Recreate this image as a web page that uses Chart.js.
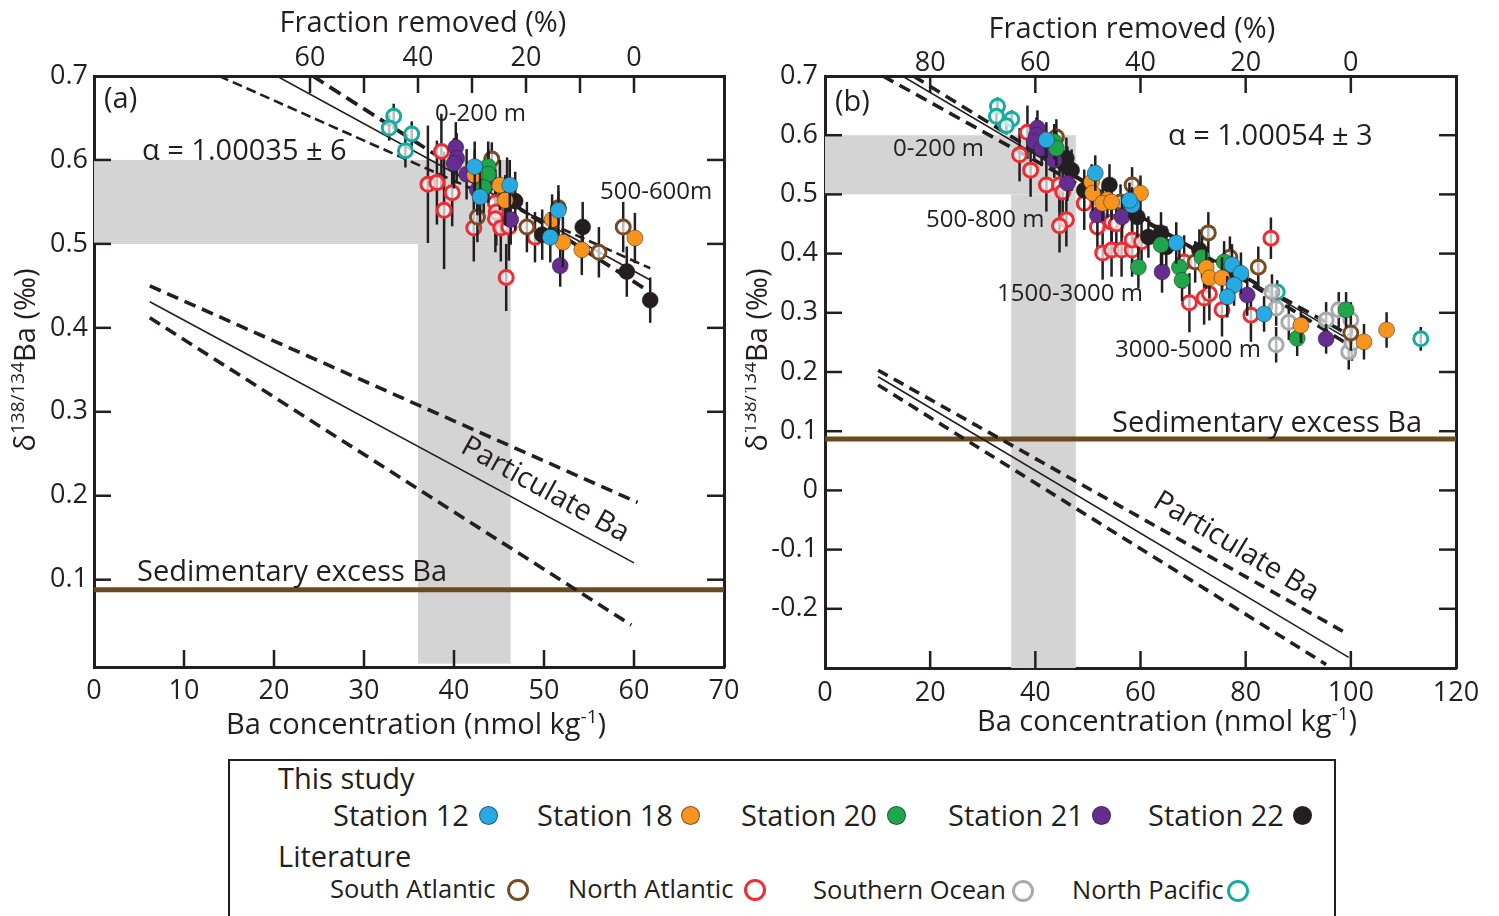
<!DOCTYPE html>
<html>
<head>
<meta charset="utf-8">
<script src="https://cdn.jsdelivr.net/npm/chart.js@4.4.1/dist/chart.umd.min.js"></script>
<style>
  body { margin: 0; background: #fff; width: 1499px; height: 916px; overflow: hidden; position: relative;
         font-family: 'Open Sans', sans-serif; color: #231f20; }
  #cA { position: absolute; left: 0; top: 0; }
  #cB { position: absolute; left: 745px; top: 0; }
  #legendBox { position: absolute; left: 228px; top: 759px; width: 1104px; height: 180px; border: 2px solid #231f20; }
  .lt { position: absolute; white-space: nowrap; line-height: 1; }
  .dot { position: absolute; border-radius: 50%; box-sizing: border-box; }
</style>
</head>
<body>
<canvas id="cA" width="745" height="750"></canvas>
<canvas id="cB" width="754" height="750"></canvas>
<div id="legendBox"></div>
<div id="legend"></div>

<script>
const INK = '#231f20';
const FONT = "'Open Sans', sans-serif";

// ---- axis ticks ----
const xTicksA = [0, 10, 20, 30, 40, 50, 60, 70];
const yTicksA = [0.1, 0.2, 0.3, 0.4, 0.5, 0.6, 0.7];
const fracTicksA = [60, 50, 40, 30, 20, 10, 0];
const fracLabelsA = [60, 40, 20, 0];
const ba0A = 60;

const xTicksB = [0, 20, 40, 60, 80, 100, 120];
const yTicksB = [-0.2, -0.1, 0, 0.1, 0.2, 0.3, 0.4, 0.5, 0.6, 0.7];
const fracTicksB = [80, 60, 40, 20, 0];
const fracLabelsB = [80, 60, 40, 20, 0];
const ba0B = 100;

// ---- series: [Ba nmol/kg, d138/134Ba, error] ----
const seriesNames = ['Station 12', 'Station 18', 'Station 20', 'Station 21', 'Station 22',
                     'South Atlantic', 'North Atlantic', 'Southern Ocean', 'North Pacific'];

// panel (a)
const aSt12 = [[42.3,0.592,0.03],[42.9,0.556,0.03],[46.2,0.570,0.03],[51.6,0.540,0.03],[50.7,0.508,0.03]];
const aSt18 = [[42.3,0.582,0.03],[45.1,0.570,0.03],[45.7,0.552,0.03],[50.9,0.529,0.03],[52.1,0.502,0.03],
               [54.2,0.493,0.03],[60.1,0.507,0.03]];
const aSt20 = [[43.8,0.592,0.03],[43.8,0.583,0.03],[43.3,0.567,0.03]];
const aSt21 = [[40.2,0.615,0.03],[40.3,0.602,0.03],[40.0,0.596,0.03],[41.4,0.583,0.03],[43.8,0.579,0.03],
               [42.6,0.564,0.03],[46.3,0.529,0.03],[51.8,0.474,0.025]];
const aSt22 = [[45.9,0.568,0.035],[46.8,0.551,0.035],[49.8,0.511,0.03],[54.3,0.520,0.03],[59.2,0.467,0.03],
               [61.8,0.433,0.027]];
const aSAtl = [[44.2,0.601,0.02],[42.6,0.532,0.03],[48.1,0.520,0.03],[51.6,0.543,0.02],[58.8,0.520,0.03],
               [56.1,0.490,0.03]];
const aNAtl = [[38.6,0.610,0.045],[37.1,0.571,0.07],[38.1,0.573,0.05],[39.8,0.561,0.04],[38.9,0.540,0.07],
               [42.2,0.519,0.04],[44.6,0.549,0.04],[44.7,0.538,0.04],[44.6,0.530,0.04],[45.2,0.519,0.04],
               [46.1,0.520,0.04],[45.8,0.460,0.04],[49.0,0.508,0.03]];
const aSOcn = [];
const aNPac = [[33.3,0.652,0.015],[32.8,0.638,0.015],[35.3,0.631,0.015],[34.6,0.611,0.02]];

// panel (b)
const bSt12 = [[42.1,0.592,0.03],[51.4,0.536,0.03],[58.4,0.482,0.03],[57.9,0.490,0.03],[66.8,0.418,0.035],
               [77.4,0.381,0.035],[79.1,0.367,0.035],[77.8,0.347,0.035],[76.5,0.327,0.035],[83.5,0.298,0.03]];
const bSt18 = [[50.7,0.521,0.03],[50.9,0.502,0.03],[53.7,0.491,0.03],[52.8,0.485,0.03],[54.5,0.487,0.03],
               [60.0,0.502,0.03],[72.5,0.376,0.035],[73.1,0.359,0.035],[75.5,0.359,0.035],[90.5,0.279,0.03],
               [102.5,0.251,0.03],[106.8,0.271,0.03]];
const bSt20 = [[43.6,0.589,0.03],[44.0,0.578,0.03],[63.9,0.415,0.035],[59.6,0.377,0.035],[67.4,0.377,0.035],
               [67.9,0.355,0.035],[75.9,0.386,0.035],[71.7,0.394,0.035],[89.8,0.257,0.03],[99.1,0.305,0.03]];
const bSt21 = [[40.4,0.612,0.03],[40.2,0.600,0.03],[39.8,0.589,0.03],[41.2,0.578,0.03],[43.1,0.572,0.03],
               [43.6,0.558,0.03],[46.1,0.519,0.03],[51.8,0.465,0.035],[56.5,0.462,0.035],[64.1,0.369,0.035],
               [80.3,0.330,0.035],[95.3,0.256,0.025]];
const bSt22 = [[45.9,0.561,0.035],[46.1,0.546,0.035],[46.9,0.541,0.035],[49.3,0.507,0.035],[54.1,0.516,0.035],
               [59.4,0.462,0.035],[61.5,0.428,0.035],[63.9,0.435,0.035],[64.9,0.411,0.035],[71.2,0.406,0.035]];
const bSAtl = [[44.0,0.597,0.03],[58.4,0.516,0.03],[56.2,0.487,0.03],[72.9,0.435,0.035],[70.4,0.386,0.035],
               [77.0,0.394,0.035],[82.4,0.377,0.035],[100.0,0.266,0.03]];
const bNAtl = [[38.5,0.605,0.045],[37.0,0.567,0.045],[39.1,0.541,0.045],[42.1,0.516,0.045],[44.6,0.516,0.045],
               [45.2,0.504,0.045],[45.9,0.457,0.045],[44.6,0.447,0.045],[49.3,0.485,0.045],[51.8,0.445,0.045],
               [54.5,0.453,0.045],[55.4,0.450,0.045],[52.8,0.401,0.045],[54.5,0.406,0.045],[56.4,0.406,0.045],
               [58.4,0.406,0.045],[58.4,0.423,0.045],[60.2,0.420,0.045],[68.3,0.386,0.045],[69.3,0.317,0.05],
               [72.1,0.325,0.045],[73.1,0.332,0.045],[75.5,0.305,0.045],[81.0,0.296,0.045],[84.8,0.426,0.035]];
const bSOcn = [[85.0,0.335,0.03],[85.8,0.308,0.03],[88.2,0.284,0.03],[85.8,0.246,0.03],[95.3,0.288,0.03],
               [97.7,0.305,0.03],[100.0,0.288,0.03],[99.6,0.234,0.03],[100.2,0.249,0.03]];
const bNPac = [[32.8,0.649,0.015],[32.6,0.632,0.015],[35.5,0.627,0.015],[34.5,0.616,0.015],[86.0,0.335,0.02],
               [113.3,0.256,0.02]];

// ---- model lines: [Ba, d] end points ----
const aFitSolid = [[20.3,0.700],[61.8,0.457]];
const aFitDashThin = [[13.9,0.700],[61.8,0.471]];
const aFitDashThick = [[24.3,0.700],[61.0,0.448]];
const aPartSolid = [[6.2,0.431],[60.0,0.120]];
const aPartUpper = [[6.2,0.450],[60.4,0.192]];
const aPartLower = [[6.2,0.412],[59.7,0.046]];
const aSedBa = 0.088;
const aBands = [[0,46.3,0.5,0.6],[36,46.3,0,0.5]];

const bFitSolid = [[14.7,0.700],[100.0,0.253]];
const bFitDashA = [[16.8,0.700],[99.6,0.246]];
const bFitDashB = [[11.0,0.700],[99.6,0.263]];
const bPartSolid = [[10.1,0.192],[99.6,-0.282]];
const bPartUpper = [[10.1,0.203],[99.1,-0.241]];
const bPartLower = [[10.1,0.178],[95.3,-0.294]];
const bSedBa = 0.087;
const bBands = [[0,47.7,0.5,0.6],[35.4,47.7,-0.3,0.5]];

// ---- styles ----
const seriesColors = ['#27aae1', '#f7941d', '#1fa64a', '#662d91', '#231f20',
                      '#754c24', '#ed2d34', '#a7a9ac', '#17aca0'];
const seriesOpen = [false, false, false, false, false, true, true, true, true];
const TL = 17;

function pts(arr) { return arr.map(p => ({ x: p[0], y: p[1], e: p[2] })); }

function lineSet(arr, width, dash) {
    return {
        type: 'line', data: pts(arr), borderColor: INK, borderWidth: width, borderDash: dash || [],
        pointRadius: 0, fill: false, order: 5, xAxisID: 'x', yAxisID: 'y'
    };
}

function drawParts(ctx, parts, x, y, rot, align) {
    ctx.save();
    ctx.translate(x, y);
    if (rot) ctx.rotate(rot);
    let total = 0;
    parts.forEach(p => { ctx.font = p.s + 'px ' + FONT; p.w = ctx.measureText(p.t).width; total += p.w; });
    let cx = align === 'left' ? 0 : -total / 2;
    ctx.textAlign = 'left';
    ctx.textBaseline = 'alphabetic';
    ctx.fillStyle = INK;
    parts.forEach(p => { ctx.font = p.s + 'px ' + FONT; ctx.fillText(p.t, cx, p.dy || 0); cx += p.w; });
    ctx.restore();
}

function buildPanel(p) {
    const datasets = [];
    p.series.forEach((arr, i) => {
        if (!arr.length) return;
        const open = seriesOpen[i];
        datasets.push({
            type: 'scatter', label: seriesNames[i], data: pts(arr), errBars: true,
            pointRadius: open ? 7 : 8, pointHoverRadius: 8,
            pointBorderWidth: open ? 3 : 0.8,
            pointBackgroundColor: open ? 'rgba(255,255,255,0.7)' : seriesColors[i],
            pointBorderColor: open ? seriesColors[i] : 'rgba(35,31,32,0.6)',
            order: open ? 3 : 2, xAxisID: 'x', yAxisID: 'y'
        });
    });
    p.lines.forEach(l => datasets.push(lineSet(l[0], l[1], l[2])));
    datasets.push({
        type: 'line', data: [{ x: p.xMin, y: p.sed }, { x: p.xMax, y: p.sed }], borderColor: '#6b4a1f',
        borderWidth: 5, pointRadius: 0, order: 6, xAxisID: 'x', yAxisID: 'y'
    });

    const tickFont = { family: FONT, size: 27 };
    const fracPx = p.fracTicks.map(f => p.ba0 * (1 - f / 100));

    const bandsPlugin = {
        id: 'bands',
        beforeDatasetsDraw(chart) {
            const { ctx } = chart, xs = chart.scales.x, ys = chart.scales.y;
            ctx.save();
            ctx.fillStyle = '#d4d4d4';
            p.bands.forEach(b => {
                const x1 = xs.getPixelForValue(b[0]), x2 = xs.getPixelForValue(b[1]);
                const y1 = ys.getPixelForValue(b[3]), y2 = ys.getPixelForValue(b[2]);
                ctx.fillRect(x1, y1, x2 - x1, y2 - y1);
            });
            ctx.restore();
        }
    };

    const errPlugin = {
        id: 'errbars',
        beforeDatasetDraw(chart, args) {
            const ds = chart.data.datasets[args.index];
            if (!ds.errBars) return;
            const { ctx } = chart, xs = chart.scales.x, ys = chart.scales.y;
            ctx.save();
            ctx.strokeStyle = INK;
            ctx.lineWidth = 2.5;
            ds.data.forEach(d => {
                const px = xs.getPixelForValue(d.x);
                ctx.beginPath();
                ctx.moveTo(px, ys.getPixelForValue(d.y - d.e));
                ctx.lineTo(px, ys.getPixelForValue(d.y + d.e));
                ctx.stroke();
            });
            ctx.restore();
        }
    };

    const decoPlugin = {
        id: 'deco',
        afterDraw(chart) {
            const { ctx, chartArea: a } = chart;
            ctx.save();
            ctx.strokeStyle = INK;
            ctx.lineWidth = 2.5;
            // inward tick marks
            for (const id in chart.scales) {
                const s = chart.scales[id];
                s.ticks.forEach(t => {
                    const v = s.getPixelForValue(t.value);
                    ctx.beginPath();
                    if (s.position === 'left' && v > a.top + 2 && v < a.bottom - 2) { ctx.moveTo(a.left, v); ctx.lineTo(a.left + TL, v); }
                    else if (s.position === 'right' && v > a.top + 2 && v < a.bottom - 2) { ctx.moveTo(a.right, v); ctx.lineTo(a.right - TL, v); }
                    else if (s.position === 'bottom' && v > a.left + 2 && v < a.right - 2) { ctx.moveTo(v, a.bottom); ctx.lineTo(v, a.bottom - TL); }
                    else if (s.position === 'top' && v > a.left + 2 && v < a.right - 2) { ctx.moveTo(v, a.top); ctx.lineTo(v, a.top + TL); }
                    ctx.stroke();
                });
            }
            ctx.restore();

            // annotations
            p.texts.forEach(t => {
                ctx.save();
                ctx.fillStyle = INK;
                ctx.font = t.s + 'px ' + FONT;
                if (t.rot) {
                    ctx.translate(t.x, t.y);
                    ctx.rotate(t.rot * Math.PI / 180);
                    ctx.textAlign = 'center';
                    ctx.textBaseline = 'middle';
                    ctx.fillText(t.t, 0, 0);
                } else {
                    ctx.textAlign = 'left';
                    ctx.textBaseline = 'alphabetic';
                    ctx.fillText(t.t, t.x, t.y);
                }
                ctx.restore();
            });

            // axis titles
            drawParts(ctx, [{ t: 'Fraction removed (%)', s: 29 }], p.topTitle[0], p.topTitle[1]);
            drawParts(ctx, [{ t: 'Ba concentration (nmol kg', s: 29 }, { t: '-1', s: 19, dy: -11 }, { t: ')', s: 29 }],
                p.botTitle[0], p.botTitle[1]);
            drawParts(ctx, [{ t: '\u03b4', s: 29 }, { t: '138/134', s: 19, dy: -11 }, { t: 'Ba (\u2030)', s: 29 }],
                p.yTitle[0], p.yTitle[1], -Math.PI / 2);
        }
    };

    const border = { display: true, width: 3, color: INK };
    const noPadX = s => { s.paddingLeft = 0; s.paddingRight = 0; };
    new Chart(document.getElementById(p.canvas), {
        type: 'scatter',
        data: { datasets },
        options: {
            responsive: false, animation: false, events: [],
            layout: { padding: 0 },
            plugins: { legend: { display: false }, tooltip: { enabled: false } },
            scales: {
                x: {
                    type: 'linear', position: 'bottom', min: p.xMin, max: p.xMax,
                    afterBuildTicks: s => { s.ticks = p.xTicks.map(v => ({ value: v })); },
                    afterFit: s => { s.height = p.bottom; noPadX(s); },
                    grid: { display: false, drawTicks: false }, border,
                    ticks: { autoSkip: false, maxRotation: 0, padding: p.botPad, font: tickFont, color: INK,
                             callback: v => String(v) }
                },
                x2: {
                    type: 'linear', position: 'top', min: p.xMin, max: p.xMax,
                    afterBuildTicks: s => { s.ticks = fracPx.map(v => ({ value: v })); },
                    afterFit: s => { s.height = p.top; noPadX(s); },
                    grid: { display: false, drawTicks: false }, border,
                    ticks: { autoSkip: false, maxRotation: 0, padding: p.topPad, font: tickFont, color: INK,
                             callback: v => {
                                 const f = Math.round((1 - v / p.ba0) * 100);
                                 return p.fracLabels.includes(f) ? String(f) : '';
                             } }
                },
                y: {
                    type: 'linear', position: 'left', min: p.yMin, max: p.yMax,
                    afterBuildTicks: s => { s.ticks = p.yTicks.map(v => ({ value: v })); },
                    afterFit: s => { s.width = p.left; s.paddingTop = 0; s.paddingBottom = 0; },
                    grid: { display: false, drawTicks: false }, border,
                    ticks: { autoSkip: false, padding: p.leftPad, font: tickFont, color: INK,
                             callback: v => (Math.abs(v) < 1e-9 ? '0' : v.toFixed(1)) }
                },
                y2: {
                    type: 'linear', position: 'right', min: p.yMin, max: p.yMax,
                    afterBuildTicks: s => { s.ticks = p.yTicks.map(v => ({ value: v })); },
                    afterFit: s => { s.width = p.right; s.paddingTop = 0; s.paddingBottom = 0; },
                    grid: { display: false, drawTicks: false }, border,
                    ticks: { display: false }
                }
            }
        },
        plugins: [bandsPlugin, errPlugin, decoPlugin]
    });
}

buildPanel({
    canvas: 'cA', xMin: 0, xMax: 70, yMin: -0.004, yMax: 0.7,
    left: 94, right: 21, top: 76, bottom: 83, leftPad: 6, botPad: 8, topPad: 1,
    xTicks: xTicksA, yTicks: yTicksA, fracTicks: fracTicksA, fracLabels: fracLabelsA, ba0: ba0A,
    series: [aSt12, aSt18, aSt20, aSt21, aSt22, aSAtl, aNAtl, aSOcn, aNPac],
    lines: [[aFitSolid, 1.6], [aFitDashThin, 2.6, [10, 5]], [aFitDashThick, 3.8, [13, 7]],
            [aPartSolid, 1.6], [aPartUpper, 3.6, [12, 7]], [aPartLower, 3.6, [12, 7]]],
    sed: aSedBa, bands: aBands,
    texts: [
        { t: '(a)', x: 104, y: 108, s: 29 },
        { t: '\u03b1 = 1.00035 \u00b1 6', x: 142, y: 160, s: 29 },
        { t: '0-200 m', x: 435, y: 121, s: 24 },
        { t: '500-600m', x: 600, y: 199, s: 24 },
        { t: 'Sedimentary excess Ba', x: 137, y: 581, s: 29 },
        { t: 'Particulate Ba', x: 545, y: 490, s: 29, rot: 29 }
    ],
    topTitle: [423, 32], botTitle: [416, 734], yTitle: [35, 360]
});

buildPanel({
    canvas: 'cB', xMin: 0, xMax: 120, yMin: -0.3, yMax: 0.7,
    left: 80, right: 43, top: 76, bottom: 82, leftPad: 7, botPad: 9, topPad: -4,
    xTicks: xTicksB, yTicks: yTicksB, fracTicks: fracTicksB, fracLabels: fracLabelsB, ba0: ba0B,
    series: [bSt12, bSt18, bSt20, bSt21, bSt22, bSAtl, bNAtl, bSOcn, bNPac],
    lines: [[bFitSolid, 1.6], [bFitDashA, 3.6, [12, 7]], [bFitDashB, 3.6, [12, 7]],
            [bPartSolid, 1.6], [bPartUpper, 3.6, [11, 7]], [bPartLower, 3.6, [11, 7]]],
    sed: bSedBa, bands: bBands,
    texts: [
        { t: '(b)', x: 90, y: 111, s: 29 },
        { t: '\u03b1 = 1.00054 \u00b1 3', x: 423, y: 145, s: 29 },
        { t: '0-200 m', x: 148, y: 156, s: 24 },
        { t: '500-800 m', x: 181, y: 227, s: 24 },
        { t: '1500-3000 m', x: 252, y: 301, s: 24 },
        { t: '3000-5000 m', x: 370, y: 357, s: 24 },
        { t: 'Sedimentary excess Ba', x: 367, y: 432, s: 29 },
        { t: 'Particulate Ba', x: 491, y: 547, s: 29, rot: 31 }
    ],
    topTitle: [387, 38], botTitle: [422, 731], yTitle: [22, 360]
});

// ---- legend ----
const legendTextX = [333, 537, 741, 948, 1148, 330, 568, 813, 1072];
const legendDotX = [488, 690, 896, 1101, 1302, 518, 755, 1023, 1238];
const legendRowY = [815, 815, 815, 815, 815, 890, 890, 891, 891];
const leg = document.getElementById('legend');
function addText(t, x, cy, size) {
    const d = document.createElement('div');
    d.className = 'lt';
    d.textContent = t;
    d.style.left = x + 'px';
    d.style.top = (cy - 0.53 * size) + 'px';
    d.style.fontSize = size + 'px';
    leg.appendChild(d);
}
addText('This study', 278, 778, 29);
addText('Literature', 278, 856, 29);
seriesNames.forEach((n, i) => {
    const open = seriesOpen[i];
    const size = open ? 25.5 : 29;
    addText(n, legendTextX[i], legendRowY[i], size);
    const dot = document.createElement('div');
    dot.className = 'dot';
    const dia = open ? 22 : 19;
    dot.style.width = dia + 'px';
    dot.style.height = dia + 'px';
    dot.style.left = (legendDotX[i] - dia / 2) + 'px';
    dot.style.top = (legendRowY[i] - dia / 2) + 'px';
    if (open) {
        dot.style.border = '3.5px solid ' + seriesColors[i];
        dot.style.background = '#fff';
    } else {
        dot.style.background = seriesColors[i];
        dot.style.border = '0.8px solid rgba(35,31,32,0.6)';
    }
    leg.appendChild(dot);
});
</script>
</body>
</html>
